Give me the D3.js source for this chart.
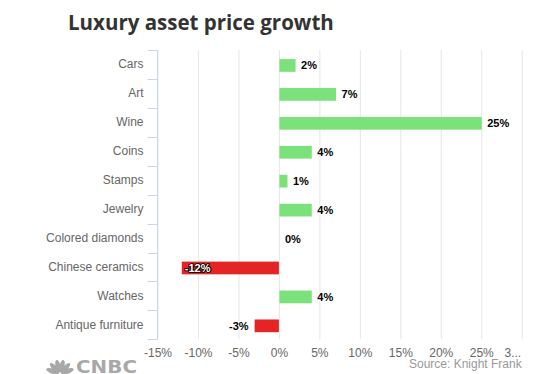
<!DOCTYPE html>
<html>
<head>
<meta charset="utf-8">
<script src="https://cdn.jsdelivr.net/npm/d3@7"></script>
<style>
  body { margin: 0; background: #fff; }
  svg { display: block; font-family: "Liberation Sans", Arial, sans-serif; }
</style>
</head>
<body>
<script>
const categories = ["Cars", "Art", "Wine", "Coins", "Stamps", "Jewelry",
  "Colored diamonds", "Chinese ceramics", "Watches", "Antique furniture"];
const growth = [2, 7, 25, 4, 1, 4, 0, -12, 4, -3];
const xTicks = [-15, -10, -5, 0, 5, 10, 15, 20, 25, 30];

const width = 550, height = 374;
const plot = {left: 157.5, right: 521.7, top: 50, bottom: 339.3};

const svg = d3.select("body").append("svg")
  .attr("width", width)
  .attr("height", height);

svg.append("text")
  .attr("x", 68).attr("y", 30)
  .attr("font-family", "'Open Sans', sans-serif")
  .attr("font-weight", "bold")
  .attr("font-size", 20.5)
  .attr("fill", "#333")
  .text("Luxury asset price growth");

const x = d3.scaleLinear().domain([-15, 30]).range([plot.left, plot.right]);
const y = d3.scaleBand().domain(categories).range([plot.top, plot.bottom]);
const barH = y.bandwidth() * 0.44;

// vertical grid
svg.append("g")
  .selectAll("line")
  .data(xTicks)
  .join("line")
  .attr("x1", d => x(d) + 0.5).attr("x2", d => x(d) + 0.5)
  .attr("y1", plot.top).attr("y2", plot.bottom)
  .attr("stroke", "#e6e6e6");

// x axis labels
const xAxis = d3.axisBottom(x)
  .tickValues(xTicks)
  .tickSize(0)
  .tickFormat(d => d === 30 ? "3..." : d + "%");
const gx = svg.append("g")
  .attr("transform", `translate(0,${plot.bottom})`)
  .call(xAxis);
gx.select(".domain").remove();
gx.selectAll("text")
  .attr("y", 18).attr("dy", 0)
  .attr("font-size", 12)
  .attr("font-family", "'Liberation Sans', Arial, sans-serif")
  .attr("fill", "#666");
gx.selectAll(".tick").filter(d => d === 30).select("text")
  .attr("text-anchor", "end").attr("x", -1);

// y axis
const yAxis = d3.axisLeft(y).tickSize(0).tickPadding(14);
const gy = svg.append("g")
  .attr("transform", `translate(${plot.left},0)`)
  .call(yAxis);
gy.select(".domain").remove();
gy.selectAll("text")
  .attr("font-size", 12)
  .attr("font-family", "'Liberation Sans', Arial, sans-serif")
  .attr("fill", "#666");

svg.append("g")
  .selectAll("line")
  .data(d3.range(categories.length + 1))
  .join("line")
  .attr("x1", plot.left - 10).attr("x2", plot.left)
  .attr("y1", i => Math.round(plot.top + i * y.step()) + 0.5)
  .attr("y2", i => Math.round(plot.top + i * y.step()) + 0.5)
  .attr("stroke", "#ccd6eb");
svg.append("line")
  .attr("x1", plot.left).attr("x2", plot.left)
  .attr("y1", plot.top).attr("y2", plot.bottom)
  .attr("stroke", "#ccd6eb");

// bars
svg.append("g")
  .selectAll("rect")
  .data(categories)
  .join("rect")
  .attr("x", (c, i) => x(Math.min(0, growth[i])) + (growth[i] >= 0 ? 0.5 : 0))
  .attr("y", c => y(c) + (y.bandwidth() - barH) / 2 + 1)
  .attr("width", (c, i) => Math.abs(x(growth[i]) - x(0)))
  .attr("height", barH)
  .attr("fill", (c, i) => growth[i] < 0 ? "#e52525" : "#7be27b");

// value labels
svg.append("g")
  .selectAll("text")
  .data(categories)
  .join("text")
  .each(function (c, i) {
    const v = growth[i];
    const t = d3.select(this)
      .attr("y", y(c) + y.bandwidth() / 2 + 5)
      .attr("font-size", 11)
      .attr("font-weight", "bold")
      .attr("paint-order", "stroke")
      .attr("stroke-width", 2)
      .attr("stroke-linejoin", "round")
      .text(v + "%");
    if (v >= 0) {
      t.attr("x", x(v) + 6).attr("fill", "#000").attr("stroke", "#fff");
    } else if (x(v) - 30 < plot.left) {
      t.attr("x", x(v) + 3).attr("fill", "#fff").attr("stroke", "#000");
    } else {
      t.attr("x", x(v) - 6).attr("text-anchor", "end")
        .attr("fill", "#000").attr("stroke", "#fff");
    }
  });

// source
svg.append("text")
  .attr("x", 521.7).attr("y", 368)
  .attr("text-anchor", "end")
  .attr("font-size", 12)
  .attr("fill", "#999")
  .text("Source: Knight Frank");

// CNBC logo
const logo = svg.append("g").attr("fill", "#a8a8a8");
[-70, -42, -14, 14, 42, 70].forEach(a => {
  logo.append("ellipse")
    .attr("cx", 0).attr("cy", -8)
    .attr("rx", 2.5).attr("ry", 6.5)
    .attr("transform", `translate(60,374) rotate(${a})`);
});
logo.append("text")
  .attr("x", 76).attr("y", 373)
  .attr("font-family", "'DejaVu Sans', sans-serif")
  .attr("font-weight", "bold")
  .attr("font-size", 18)
  .attr("textLength", 61)
  .attr("lengthAdjust", "spacingAndGlyphs")
  .text("CNBC");
</script>
</body>
</html>
